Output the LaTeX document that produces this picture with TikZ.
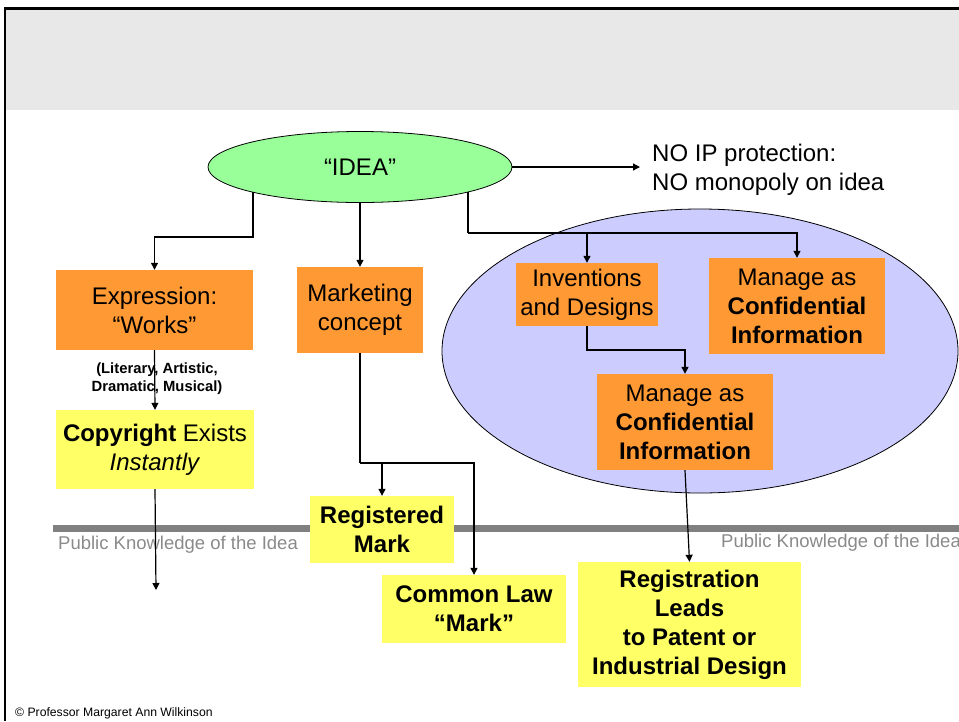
\documentclass[tikz,border=0pt]{standalone}
\usepackage{fontspec}
\setmainfont{Liberation Sans}
\usetikzlibrary{arrows.meta,shapes.geometric,calc}
\definecolor{orng}{HTML}{FF9933}
\definecolor{ylw}{HTML}{FFFF66}
\definecolor{grn}{HTML}{99FF99}
\definecolor{blu}{HTML}{CCCCFF}
\definecolor{band}{HTML}{E8E8E8}
\definecolor{pkline}{HTML}{808080}
\definecolor{pktext}{HTML}{8A8A8A}
\begin{document}
\begin{tikzpicture}[x=1pt,y=-1pt,
  conn/.style={line width=1.2pt},
  arr/.style={conn,-{Triangle[length=7pt,width=7pt]}},
  bigfont/.style={font=\fontsize{24}{29}\selectfont},
  obox/.style={rectangle,fill=orng,inner sep=0pt,align=center,bigfont},
  ybox/.style={rectangle,fill=ylw,inner sep=0pt,align=center,font=\fontsize{24}{29}\selectfont\bfseries},
  pk/.style={text=pktext,font=\fontsize{18.5}{22}\selectfont,inner sep=0pt,anchor=west}
]
\useasboundingbox (0,0) rectangle (959,721);
% slide frame and title band
\fill[band] (6,10) rectangle (959,110);
\draw[line width=3pt] (4,8.5) -- (959,8.5);
\draw[line width=2pt] (5,7) -- (5,721);

% public knowledge line
\fill[pkline] (53,525) rectangle (959,532);
\node[pk] (pk1) at (58,545) {Public Knowledge of the Idea};
\node[pk] (pk2) at (721,543) {Public Knowledge of the Idea};

% blue cloud
\node[ellipse,fill=blu,draw=black,line width=0.8pt,minimum width=516pt,minimum height=284pt,inner sep=0pt] (cloud) at (700,351) {};

% idea
\node[ellipse,fill=grn,draw=black,line width=0.8pt,minimum width=304pt,minimum height=71pt,inner sep=0pt,bigfont] (idea) at (360,167) {“IDEA”};
\node[anchor=west,align=left,inner sep=0pt,bigfont] (noip) at (652,170) {NO IP protection:\\NO monopoly on idea};

% boxes
\node[obox,minimum width=197pt,minimum height=80pt] (expr) at (154.5,310) {Expression:\\“Works”};
\node[obox,minimum width=126pt,minimum height=86pt] (mkt) at (360,310) {Marketing\\concept};
\node[obox,minimum width=142pt,minimum height=63pt] (inv) at (587,294.5) {Inventions\\and Designs};
\node[obox,minimum width=176pt,minimum height=96pt] (ci1) at (797,306) {Manage as\\\textbf{Confidential}\\\textbf{Information}};
\node[obox,minimum width=176pt,minimum height=96pt] (ci2) at (685,422) {Manage as\\\textbf{Confidential}\\\textbf{Information}};

\node[ybox,minimum width=198pt,minimum height=79pt,font=\fontsize{24}{29}\selectfont] (copy) at (155,449.5) {\textbf{Copyright} Exists\\\textit{Instantly}};
\node[ybox,minimum width=144pt,minimum height=67pt] (rmark) at (382,529.5) {Registered\\Mark};
\node[ybox,minimum width=184pt,minimum height=68pt] (clm) at (474,609) {Common Law\\“Mark”};
\node[ybox,minimum width=223pt,minimum height=125pt] (reg) at (689.5,624.5) {Registration\\Leads\\to Patent or\\Industrial Design};

% label
\node[align=center,inner sep=0pt,font=\fontsize{14.8}{18}\selectfont\bfseries] (lit) at (157,379) {(Literary, Artistic,\\Dramatic, Musical)};

% connectors
\coordinate (s1) at ($(idea.center)+(-107,25)$);
\coordinate (s3) at ($(idea.center)+(108,25)$);
\draw[arr] (idea.east) -- (640,167) coordinate (noipend);
\draw[arr] (s1) -- (s1 |- 0,237) -| (expr.north);
\draw[arr] (idea.south) -- (mkt.north);
\coordinate (t3) at (468,233);
\draw[conn] (s3) -- (t3);
\draw[arr] (t3) -| (ci1.north);
\draw[arr] (inv.north |- t3) -- (inv.north);
\draw[arr] (inv.south) -- (inv.south |- 0,350) -| (ci2.north);
\draw[arr] (ci2.south) -- (reg.north);
\draw[arr] (expr.south) -- (copy.north);
\coordinate (cend) at (156,590);
\draw[arr] (copy.south) -- (cend);
\coordinate (t4) at (360,463);
\draw[conn] (mkt.south) -- (t4);
\draw[arr] (t4) -| (clm.north);
\draw[arr] (rmark.north |- t4) -- (rmark.north);

% footer
\node[anchor=west,inner sep=0pt,font=\fontsize{12.2}{14}\selectfont] (cr) at (15,713) {© Professor Margaret Ann Wilkinson};
\end{tikzpicture}
\end{document}
